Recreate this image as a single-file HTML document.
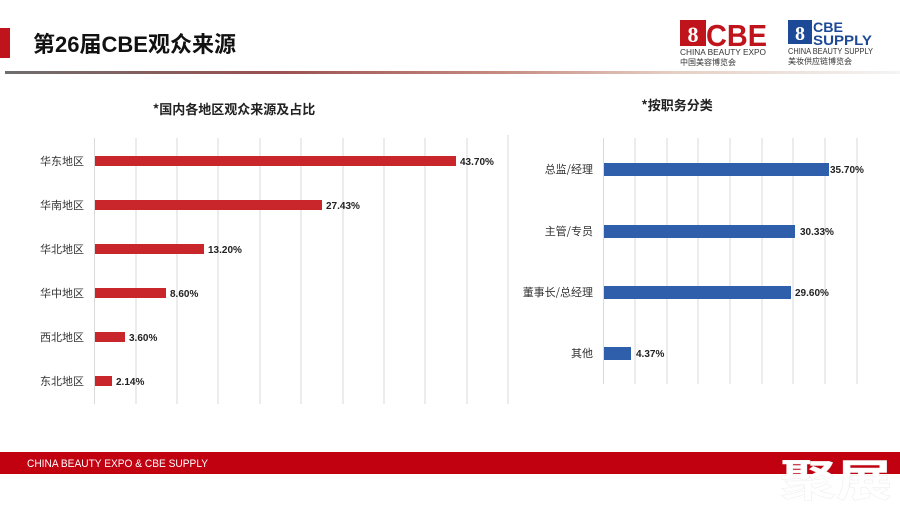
<!DOCTYPE html>
<html><head><meta charset="utf-8"><style>
html,body{margin:0;padding:0;background:#fff;}
body{width:900px;height:506px;overflow:hidden;position:relative;font-family:"Liberation Sans","Noto Sans CJK SC",sans-serif;}
</style></head><body>
<svg width="900" height="506" viewBox="0 0 900 506" xmlns="http://www.w3.org/2000/svg" style="position:absolute;left:0;top:0">
<defs>
<linearGradient id="g" x1="0" x2="1" y1="0" y2="0">
<stop offset="0" stop-color="#6e6e6e"/><stop offset="0.3" stop-color="#9a5050"/><stop offset="0.55" stop-color="#c58a80"/><stop offset="0.75" stop-color="#e6cfc4"/><stop offset="1" stop-color="#f4f4f4"/>
</linearGradient>
</defs>
<rect x="0" y="28" width="10" height="30" fill="#c0141c"/>
<text x="33" y="52" font-size="22" font-weight="bold" fill="#111" font-family="Liberation Sans,Noto Sans CJK SC,sans-serif" textLength="203" lengthAdjust="spacingAndGlyphs">第26届CBE观众来源</text>
<rect x="5" y="71" width="895" height="3" fill="url(#g)"/>
<!-- CBE logo -->
<rect x="680" y="20" width="26" height="26" fill="#c0141c"/>
<text x="693" y="42" font-size="22" font-weight="bold" fill="#fff" text-anchor="middle" font-family="Liberation Serif,serif">8</text>
<text x="706" y="46" font-size="31" font-weight="bold" fill="#c0141c" font-family="Liberation Sans,sans-serif" textLength="61" lengthAdjust="spacingAndGlyphs">CBE</text>
<text x="680" y="55" font-size="8" fill="#333" textLength="86" lengthAdjust="spacingAndGlyphs">CHINA BEAUTY EXPO</text>
<text x="680" y="65" font-size="8" fill="#333" font-family="Noto Sans CJK SC,sans-serif">中国美容博览会</text>
<!-- Supply logo -->
<rect x="788" y="20" width="24" height="24" fill="#1c4a96"/>
<text x="800" y="40" font-size="20" font-weight="bold" fill="#fff" text-anchor="middle" font-family="Liberation Serif,serif">8</text>
<text x="813" y="32" font-size="14" font-weight="bold" fill="#1c4a96" textLength="30" lengthAdjust="spacingAndGlyphs">CBE</text>
<text x="813" y="45" font-size="14" font-weight="bold" fill="#1c4a96" textLength="59" lengthAdjust="spacingAndGlyphs">SUPPLY</text>
<text x="788" y="54" font-size="8" fill="#333" textLength="85" lengthAdjust="spacingAndGlyphs">CHINA BEAUTY SUPPLY</text>
<text x="788" y="64" font-size="8" fill="#333" font-family="Noto Sans CJK SC,sans-serif">美妆供应链博览会</text>

<!-- left chart -->
<text x="234" y="114" font-size="13" font-weight="bold" fill="#222" text-anchor="middle" font-family="Noto Sans CJK SC,sans-serif">*国内各地区观众来源及占比</text>
<g stroke="#d9d9d9" stroke-width="1">
<line x1="94.5" y1="138" x2="94.5" y2="404"/><line x1="136" y1="138" x2="136" y2="404"/><line x1="177" y1="138" x2="177" y2="404"/><line x1="218" y1="138" x2="218" y2="404"/><line x1="260" y1="138" x2="260" y2="404"/><line x1="301" y1="138" x2="301" y2="404"/><line x1="343" y1="138" x2="343" y2="404"/><line x1="384" y1="138" x2="384" y2="404"/><line x1="425" y1="138" x2="425" y2="404"/><line x1="467" y1="138" x2="467" y2="404"/><line x1="508" y1="135" x2="508" y2="404"/>
</g>
<g fill="#c9262c">
<rect x="95" y="156" width="361" height="10"/>
<rect x="95" y="200" width="227" height="10"/>
<rect x="95" y="244" width="109" height="10"/>
<rect x="95" y="288" width="71" height="10"/>
<rect x="95" y="332" width="30" height="10"/>
<rect x="95" y="376" width="17" height="10"/>
</g>
<g font-size="10" font-weight="bold" fill="#222">
<text x="460" y="165">43.70%</text><text x="326" y="209">27.43%</text><text x="208" y="253">13.20%</text><text x="170" y="297">8.60%</text><text x="129" y="341">3.60%</text><text x="116" y="385">2.14%</text>
</g>
<g font-size="11" fill="#333" text-anchor="end" font-family="Noto Sans CJK SC,sans-serif">
<text x="84" y="165">华东地区</text><text x="84" y="209">华南地区</text><text x="84" y="253">华北地区</text><text x="84" y="297">华中地区</text><text x="84" y="341">西北地区</text><text x="84" y="385">东北地区</text>
</g>

<!-- right chart -->
<text x="677" y="110" font-size="13" font-weight="bold" fill="#222" text-anchor="middle" font-family="Noto Sans CJK SC,sans-serif">*按职务分类</text>
<g stroke="#d9d9d9" stroke-width="1">
<line x1="603.5" y1="138" x2="603.5" y2="384"/><line x1="635" y1="138" x2="635" y2="384"/><line x1="667" y1="138" x2="667" y2="384"/><line x1="698" y1="138" x2="698" y2="384"/><line x1="730" y1="138" x2="730" y2="384"/><line x1="762" y1="138" x2="762" y2="384"/><line x1="793" y1="138" x2="793" y2="384"/><line x1="825" y1="138" x2="825" y2="384"/><line x1="857" y1="138" x2="857" y2="384"/>
</g>
<g fill="#2f5fab">
<rect x="604" y="163" width="225" height="13"/>
<rect x="604" y="225" width="191" height="13"/>
<rect x="604" y="286" width="187" height="13"/>
<rect x="604" y="347" width="27" height="13"/>
</g>
<g font-size="10" font-weight="bold" fill="#222">
<text x="830" y="173">35.70%</text><text x="800" y="235">30.33%</text><text x="795" y="296">29.60%</text><text x="636" y="357">4.37%</text>
</g>
<g font-size="11" fill="#333" text-anchor="end" font-family="Noto Sans CJK SC,sans-serif">
<text x="593" y="173">总监/经理</text><text x="593" y="235">主管/专员</text><text x="593" y="296">董事长/总经理</text><text x="593" y="357">其他</text>
</g>

<!-- footer -->
<rect x="0" y="452" width="900" height="22" fill="#c10010"/>
<text x="27" y="467" font-size="11" fill="#fff" textLength="181" lengthAdjust="spacingAndGlyphs">CHINA BEAUTY EXPO &amp; CBE SUPPLY</text>
<text x="780" y="496" font-size="44" font-weight="bold" fill="#fff" stroke="#eee" stroke-width="0.5" font-family="Noto Sans CJK SC,sans-serif" textLength="112" lengthAdjust="spacingAndGlyphs">聚展</text>
</svg>
</body></html>
